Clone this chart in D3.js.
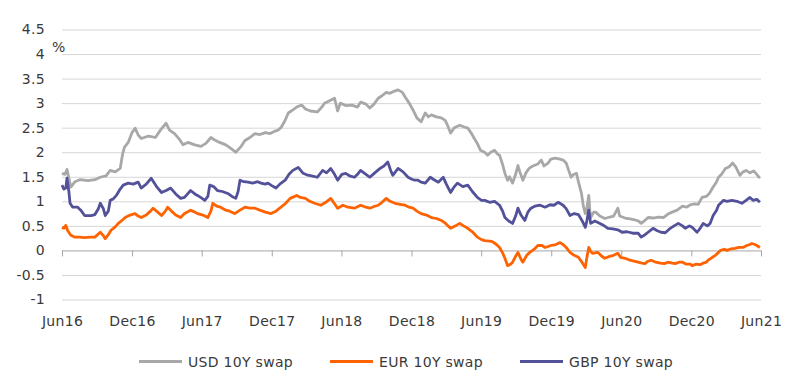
<!DOCTYPE html>
<html>
<head>
<meta charset="utf-8">
<script src="https://cdn.jsdelivr.net/npm/d3@7"></script>
<style>
  body { margin: 0; background: #fff; }
  svg text { font-family: "DejaVu Sans", sans-serif; fill: #3a3a3a; letter-spacing: 0.3px; }
</style>
</head>
<body>
<div id="chart"></div>
<script>
// 10Y swap rates, %
const usdSwap = [
  ["2016-06-01",1.57],["2016-06-09",1.55],["2016-06-14",1.65],["2016-06-24",1.29],["2016-07-05",1.40],
  ["2016-07-17",1.44],["2016-08-08",1.42],["2016-08-26",1.44],["2016-09-09",1.49],["2016-09-24",1.52],
  ["2016-10-05",1.63],["2016-10-18",1.60],["2016-10-31",1.67],["2016-11-06",1.95],["2016-11-11",2.10],
  ["2016-11-21",2.20],["2016-12-01",2.40],["2016-12-09",2.49],["2016-12-17",2.35],["2016-12-25",2.28],
  ["2017-01-13",2.33],["2017-01-31",2.30],["2017-02-13",2.45],["2017-02-28",2.59],["2017-03-09",2.45],
  ["2017-03-22",2.38],["2017-04-05",2.25],["2017-04-13",2.15],["2017-04-26",2.20],["2017-05-14",2.15],
  ["2017-05-30",2.12],["2017-06-12",2.18],["2017-06-25",2.30],["2017-07-05",2.25],["2017-07-18",2.20],
  ["2017-08-03",2.15],["2017-08-16",2.08],["2017-08-29",2.00],["2017-09-12",2.12],["2017-09-22",2.24],
  ["2017-10-05",2.30],["2017-10-18",2.38],["2017-10-31",2.36],["2017-11-14",2.40],["2017-11-27",2.38],
  ["2017-12-10",2.43],["2017-12-17",2.45],["2017-12-25",2.50],["2018-01-05",2.65],["2018-01-13",2.80],
  ["2018-01-23",2.85],["2018-02-04",2.92],["2018-02-17",2.96],["2018-02-27",2.88],["2018-03-12",2.84],
  ["2018-03-30",2.82],["2018-04-11",2.92],["2018-04-18",3.00],["2018-05-01",3.05],["2018-05-14",3.10],
  ["2018-05-22",2.84],["2018-05-29",3.00],["2018-06-12",2.95],["2018-06-28",2.96],["2018-07-13",2.92],
  ["2018-07-21",3.02],["2018-08-04",2.98],["2018-08-14",2.90],["2018-08-25",2.98],["2018-09-05",3.10],
  ["2018-09-15",3.15],["2018-09-26",3.22],["2018-10-06",3.20],["2018-10-16",3.24],["2018-10-27",3.27],
  ["2018-11-07",3.22],["2018-11-14",3.13],["2018-11-25",3.00],["2018-12-05",2.86],["2018-12-15",2.70],
  ["2018-12-26",2.62],["2019-01-06",2.80],["2019-01-14",2.72],["2019-01-22",2.76],["2019-02-04",2.72],
  ["2019-02-17",2.70],["2019-02-27",2.65],["2019-03-05",2.55],["2019-03-13",2.39],["2019-03-23",2.50],
  ["2019-04-06",2.55],["2019-04-16",2.52],["2019-04-27",2.49],["2019-05-07",2.38],["2019-05-14",2.28],
  ["2019-05-22",2.18],["2019-05-30",2.04],["2019-06-10",2.00],["2019-06-18",1.94],["2019-06-26",2.00],
  ["2019-07-06",2.04],["2019-07-14",1.96],["2019-07-19",1.94],["2019-07-27",1.75],["2019-08-02",1.57],
  ["2019-08-09",1.43],["2019-08-14",1.50],["2019-08-22",1.37],["2019-08-30",1.55],["2019-09-05",1.73],
  ["2019-09-10",1.60],["2019-09-18",1.43],["2019-09-26",1.58],["2019-10-04",1.67],["2019-10-14",1.72],
  ["2019-10-27",1.76],["2019-11-05",1.84],["2019-11-12",1.72],["2019-11-23",1.78],["2019-11-30",1.86],
  ["2019-12-11",1.88],["2019-12-24",1.86],["2020-01-01",1.84],["2020-01-09",1.78],["2020-01-17",1.60],
  ["2020-01-22",1.49],["2020-01-27",1.54],["2020-02-05",1.57],["2020-02-10",1.40],["2020-02-18",1.16],
  ["2020-02-23",0.90],["2020-02-28",0.75],["2020-03-03",0.85],["2020-03-08",1.12],["2020-03-11",0.80],
  ["2020-03-13",0.67],["2020-03-21",0.78],["2020-03-26",0.78],["2020-04-06",0.70],["2020-04-19",0.65],
  ["2020-05-02",0.68],["2020-05-12",0.70],["2020-05-23",0.86],["2020-05-28",0.70],["2020-06-11",0.66],
  ["2020-06-24",0.64],["2020-07-07",0.62],["2020-07-15",0.60],["2020-07-23",0.55],["2020-07-31",0.60],
  ["2020-08-10",0.67],["2020-08-23",0.66],["2020-09-06",0.68],["2020-09-19",0.67],["2020-10-01",0.74],
  ["2020-10-12",0.78],["2020-10-25",0.82],["2020-11-08",0.90],["2020-11-18",0.88],["2020-11-29",0.93],
  ["2020-12-09",0.95],["2020-12-19",0.94],["2020-12-29",1.08],["2021-01-09",1.10],["2021-01-17",1.16],
  ["2021-01-27",1.29],["2021-02-05",1.40],["2021-02-10",1.49],["2021-02-18",1.55],["2021-02-28",1.67],
  ["2021-03-09",1.70],["2021-03-19",1.78],["2021-03-27",1.70],["2021-04-07",1.53],["2021-04-15",1.60],
  ["2021-04-23",1.63],["2021-05-03",1.58],["2021-05-13",1.62],["2021-05-21",1.55],["2021-05-29",1.47]
];

const eurSwap = [
  ["2016-06-01",0.47],["2016-06-06",0.45],["2016-06-11",0.51],["2016-06-16",0.40],["2016-06-24",0.31],
  ["2016-07-05",0.27],["2016-07-17",0.27],["2016-07-30",0.26],["2016-08-13",0.27],["2016-08-26",0.27],
  ["2016-09-09",0.37],["2016-09-17",0.30],["2016-09-22",0.24],["2016-09-30",0.32],["2016-10-07",0.41],
  ["2016-10-18",0.48],["2016-10-26",0.55],["2016-11-06",0.62],["2016-11-13",0.67],["2016-11-26",0.72],
  ["2016-12-09",0.75],["2016-12-17",0.70],["2016-12-25",0.67],["2017-01-07",0.72],["2017-01-18",0.80],
  ["2017-01-25",0.86],["2017-02-06",0.78],["2017-02-16",0.71],["2017-02-26",0.80],["2017-03-04",0.88],
  ["2017-03-14",0.80],["2017-03-25",0.72],["2017-04-07",0.67],["2017-04-17",0.75],["2017-05-03",0.82],
  ["2017-05-14",0.78],["2017-05-21",0.75],["2017-06-04",0.72],["2017-06-17",0.67],["2017-06-25",0.80],
  ["2017-06-30",0.96],["2017-07-10",0.90],["2017-07-20",0.88],["2017-08-03",0.82],["2017-08-13",0.80],
  ["2017-08-26",0.75],["2017-09-09",0.82],["2017-09-22",0.88],["2017-10-05",0.86],["2017-10-18",0.86],
  ["2017-10-31",0.82],["2017-11-14",0.78],["2017-11-29",0.75],["2017-12-12",0.80],["2017-12-25",0.88],
  ["2018-01-05",0.95],["2018-01-18",1.06],["2018-02-04",1.12],["2018-02-14",1.08],["2018-02-27",1.06],
  ["2018-03-10",1.00],["2018-03-23",0.96],["2018-04-08",0.92],["2018-04-21",0.98],["2018-05-04",1.06],
  ["2018-05-14",0.95],["2018-05-22",0.86],["2018-06-05",0.92],["2018-06-18",0.88],["2018-07-05",0.86],
  ["2018-07-21",0.92],["2018-08-04",0.88],["2018-08-14",0.86],["2018-08-27",0.90],["2018-09-05",0.92],
  ["2018-09-15",0.98],["2018-09-26",1.06],["2018-10-06",1.00],["2018-10-19",0.96],["2018-11-01",0.94],
  ["2018-11-14",0.92],["2018-11-25",0.88],["2018-12-05",0.86],["2018-12-15",0.80],["2018-12-26",0.75],
  ["2019-01-09",0.72],["2019-01-22",0.67],["2019-02-04",0.65],["2019-02-17",0.61],["2019-02-28",0.55],
  ["2019-03-13",0.45],["2019-03-26",0.50],["2019-04-06",0.55],["2019-04-16",0.50],["2019-04-27",0.45],
  ["2019-05-09",0.38],["2019-05-22",0.27],["2019-06-02",0.22],["2019-06-10",0.20],["2019-06-23",0.19],
  ["2019-06-30",0.18],["2019-07-11",0.12],["2019-07-19",0.06],["2019-07-27",-0.05],["2019-08-02",-0.16],
  ["2019-08-09",-0.31],["2019-08-17",-0.28],["2019-08-22",-0.24],["2019-08-30",-0.12],["2019-09-05",-0.04],
  ["2019-09-13",-0.18],["2019-09-18",-0.24],["2019-09-28",-0.10],["2019-10-06",-0.04],["2019-10-17",0.02],
  ["2019-10-27",0.10],["2019-11-07",0.10],["2019-11-15",0.06],["2019-11-23",0.08],["2019-11-30",0.10],
  ["2019-12-13",0.12],["2019-12-24",0.16],["2020-01-01",0.12],["2020-01-09",0.06],["2020-01-19",-0.04],
  ["2020-01-30",-0.10],["2020-02-10",-0.14],["2020-02-20",-0.25],["2020-02-28",-0.35],["2020-03-03",-0.15],
  ["2020-03-08",0.06],["2020-03-13",-0.02],["2020-03-18",-0.06],["2020-04-01",-0.04],["2020-04-11",-0.12],
  ["2020-04-19",-0.16],["2020-05-02",-0.12],["2020-05-12",-0.10],["2020-05-23",-0.06],["2020-05-30",-0.14],
  ["2020-06-11",-0.16],["2020-06-24",-0.20],["2020-07-04",-0.22],["2020-07-15",-0.24],["2020-07-25",-0.26],
  ["2020-08-02",-0.27],["2020-08-10",-0.22],["2020-08-18",-0.20],["2020-08-30",-0.24],["2020-09-11",-0.26],
  ["2020-09-21",-0.27],["2020-10-01",-0.24],["2020-10-12",-0.26],["2020-10-20",-0.27],["2020-10-30",-0.24],
  ["2020-11-08",-0.24],["2020-11-18",-0.28],["2020-11-29",-0.28],["2020-12-03",-0.31],["2020-12-14",-0.28],
  ["2020-12-24",-0.29],["2020-12-29",-0.27],["2021-01-09",-0.24],["2021-01-14",-0.20],["2021-01-25",-0.14],
  ["2021-02-02",-0.10],["2021-02-10",-0.04],["2021-02-15",0.00],["2021-02-25",0.02],["2021-03-04",0.00],
  ["2021-03-14",0.03],["2021-03-25",0.04],["2021-04-04",0.06],["2021-04-15",0.06],["2021-04-25",0.10],
  ["2021-05-03",0.12],["2021-05-08",0.14],["2021-05-16",0.12],["2021-05-21",0.10],["2021-05-29",0.06]
];

const gbpSwap = [
  ["2016-06-01",1.33],["2016-06-06",1.25],["2016-06-11",1.27],["2016-06-14",1.47],["2016-06-19",1.20],
  ["2016-06-22",0.96],["2016-06-29",0.88],["2016-07-12",0.88],["2016-07-20",0.82],["2016-07-30",0.71],
  ["2016-08-16",0.71],["2016-08-26",0.73],["2016-09-04",0.85],["2016-09-09",0.96],["2016-09-17",0.85],
  ["2016-09-22",0.71],["2016-09-30",0.80],["2016-10-05",1.02],["2016-10-13",1.05],["2016-10-21",1.12],
  ["2016-10-31",1.25],["2016-11-08",1.33],["2016-11-21",1.37],["2016-12-04",1.35],["2016-12-17",1.39],
  ["2016-12-25",1.27],["2017-01-07",1.35],["2017-01-20",1.47],["2017-02-03",1.30],["2017-02-16",1.18],
  ["2017-02-28",1.22],["2017-03-12",1.27],["2017-03-25",1.15],["2017-04-07",1.06],["2017-04-17",1.08],
  ["2017-05-03",1.22],["2017-05-14",1.15],["2017-05-21",1.12],["2017-06-02",1.06],["2017-06-09",1.02],
  ["2017-06-17",1.10],["2017-06-22",1.33],["2017-07-02",1.30],["2017-07-12",1.22],["2017-07-25",1.20],
  ["2017-08-08",1.16],["2017-08-19",1.10],["2017-08-29",1.06],["2017-09-04",1.20],["2017-09-09",1.43],
  ["2017-09-19",1.40],["2017-09-30",1.39],["2017-10-12",1.37],["2017-10-25",1.40],["2017-11-03",1.37],
  ["2017-11-14",1.35],["2017-11-21",1.37],["2017-12-01",1.32],["2017-12-12",1.27],["2017-12-22",1.35],
  ["2018-01-05",1.43],["2018-01-15",1.55],["2018-01-25",1.63],["2018-02-08",1.69],["2018-02-21",1.57],
  ["2018-03-02",1.54],["2018-03-15",1.52],["2018-03-30",1.49],["2018-04-13",1.63],["2018-04-23",1.58],
  ["2018-05-04",1.67],["2018-05-14",1.55],["2018-05-22",1.43],["2018-06-02",1.55],["2018-06-12",1.57],
  ["2018-06-22",1.52],["2018-07-05",1.49],["2018-07-13",1.55],["2018-07-21",1.63],["2018-08-04",1.55],
  ["2018-08-14",1.49],["2018-08-27",1.58],["2018-09-10",1.67],["2018-09-20",1.72],["2018-09-30",1.80],
  ["2018-10-08",1.62],["2018-10-13",1.53],["2018-10-27",1.67],["2018-11-09",1.60],["2018-11-22",1.49],
  ["2018-12-02",1.45],["2018-12-10",1.43],["2018-12-18",1.43],["2018-12-26",1.39],["2019-01-06",1.37],
  ["2019-01-19",1.49],["2019-01-29",1.44],["2019-02-09",1.39],["2019-02-22",1.49],["2019-03-02",1.35],
  ["2019-03-13",1.18],["2019-03-23",1.30],["2019-03-31",1.37],["2019-04-14",1.30],["2019-04-27",1.33],
  ["2019-05-09",1.20],["2019-05-22",1.08],["2019-06-02",1.02],["2019-06-10",1.02],["2019-06-23",0.98],
  ["2019-07-06",1.00],["2019-07-19",0.92],["2019-07-27",0.80],["2019-08-02",0.67],["2019-08-12",0.60],
  ["2019-08-22",0.55],["2019-08-30",0.70],["2019-09-05",0.86],["2019-09-13",0.72],["2019-09-23",0.61],
  ["2019-10-01",0.78],["2019-10-09",0.86],["2019-10-19",0.90],["2019-11-02",0.92],["2019-11-15",0.88],
  ["2019-11-28",0.93],["2019-12-08",0.92],["2019-12-19",0.98],["2020-01-01",0.92],["2020-01-09",0.85],
  ["2020-01-19",0.71],["2020-01-30",0.75],["2020-02-10",0.73],["2020-02-20",0.60],["2020-02-28",0.47],
  ["2020-03-03",0.60],["2020-03-08",0.82],["2020-03-13",0.55],["2020-03-24",0.60],["2020-04-01",0.57],
  ["2020-04-14",0.52],["2020-04-27",0.45],["2020-05-10",0.44],["2020-05-23",0.42],["2020-06-03",0.37],
  ["2020-06-16",0.38],["2020-07-01",0.35],["2020-07-15",0.35],["2020-07-23",0.27],["2020-08-02",0.32],
  ["2020-08-10",0.37],["2020-08-23",0.45],["2020-09-03",0.40],["2020-09-13",0.37],["2020-09-24",0.36],
  ["2020-10-07",0.45],["2020-10-17",0.50],["2020-10-28",0.55],["2020-11-08",0.50],["2020-11-15",0.45],
  ["2020-11-26",0.50],["2020-12-03",0.47],["2020-12-16",0.37],["2020-12-24",0.45],["2021-01-01",0.55],
  ["2021-01-12",0.50],["2021-01-19",0.55],["2021-01-27",0.71],["2021-02-05",0.82],["2021-02-10",0.92],
  ["2021-02-18",0.98],["2021-02-23",1.02],["2021-03-04",1.00],["2021-03-17",1.02],["2021-03-30",1.00],
  ["2021-04-12",0.96],["2021-04-23",1.02],["2021-05-03",1.08],["2021-05-11",1.02],["2021-05-21",1.04],
  ["2021-05-29",0.98]
];

const seriesNames = ["USD 10Y swap", "EUR 10Y swap", "GBP 10Y swap"];
const seriesColors = ["#a8a8a8", "#ff6200", "#525199"];
const yTicks = [-1, -0.5, 0, 0.5, 1, 1.5, 2, 2.5, 3, 3.5, 4, 4.5];
const xTicks = ["2016-06-01", "2016-12-01", "2017-06-01", "2017-12-01", "2018-06-01", "2018-12-01",
                "2019-06-01", "2019-12-01", "2020-06-01", "2020-12-01", "2021-06-01"];

const width = 800, height = 385;
const margin = { top: 29.5, right: 39, bottom: 85.5, left: 62 };

const parse = d3.timeParse("%Y-%m-%d");

const svg = d3.select("#chart").append("svg")
    .attr("width", width)
    .attr("height", height);

const x = d3.scaleTime()
    .domain([parse("2016-06-01"), parse("2021-06-01")])
    .range([margin.left, width - margin.right]);

const y = d3.scaleLinear()
    .domain([-1, 4.5])
    .range([height - margin.bottom, margin.top]);

// Gridlines + y labels
const yAxis = svg.append("g")
    .attr("transform", `translate(${margin.left},0)`)
    .call(d3.axisLeft(y)
        .tickValues(yTicks)
        .tickSize(-(width - margin.left - margin.right))
        .tickPadding(17)
        .tickFormat(d => String(d)));

yAxis.select(".domain").remove();
yAxis.selectAll(".tick line")
    .attr("stroke", d => d === 0 ? "#a6a6a6" : "#d6d6d6")
    .attr("stroke-width", 1);
yAxis.selectAll(".tick text")
    .style("font-size", "14px");

// Tick marks hanging from the zero line
const xTickAxis = svg.append("g")
    .attr("transform", `translate(0,${y(0)})`)
    .call(d3.axisBottom(x)
        .tickValues(xTicks.map(parse))
        .tickSize(6)
        .tickFormat(""));
xTickAxis.select(".domain").remove();
xTickAxis.selectAll(".tick line").attr("stroke", "#a6a6a6");

// Date labels below the plot
const xLabelAxis = svg.append("g")
    .attr("transform", `translate(0,${y(-1)})`)
    .call(d3.axisBottom(x)
        .tickValues(xTicks.map(parse))
        .tickSize(0)
        .tickPadding(17)
        .tickFormat(d3.timeFormat("%b%y")));
xLabelAxis.select(".domain").remove();
xLabelAxis.selectAll(".tick text")
    .style("font-size", "14px");

// unit label
svg.append("text")
    .attr("x", 52)
    .attr("y", 52)
    .style("font-size", "14px")
    .text("%");

// Lines
const line = d3.line()
    .x(d => x(parse(d[0])))
    .y(d => y(d[1]));

[usdSwap, eurSwap, gbpSwap].forEach((data, i) => {
    svg.append("path")
        .datum(data)
        .attr("fill", "none")
        .attr("stroke", seriesColors[i])
        .attr("stroke-width", 2.8)
        .attr("stroke-linejoin", "round")
        .attr("d", line);
});

// Legend
const legendX = [139, 330, 520];
const legend = svg.append("g").attr("class", "legend");
seriesNames.forEach((name, i) => {
    legend.append("line")
        .attr("x1", legendX[i])
        .attr("x2", legendX[i] + 43)
        .attr("y1", 361.5)
        .attr("y2", 361.5)
        .attr("stroke", seriesColors[i])
        .attr("stroke-width", 3);
    legend.append("text")
        .attr("x", legendX[i] + 49)
        .attr("y", 366.5)
        .style("font-size", "14px")
        .text(name);
});
</script>
</body>
</html>
